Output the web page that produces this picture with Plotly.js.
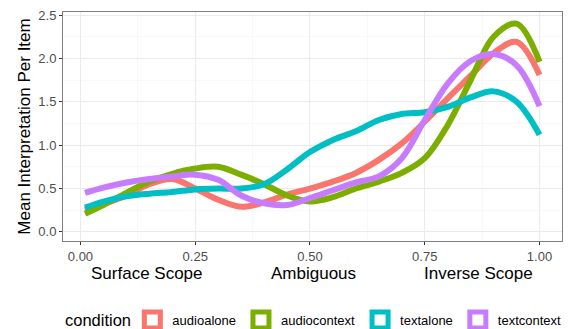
<!DOCTYPE html>
<html><head><meta charset="utf-8">
<script src="https://cdn.plot.ly/plotly-3.0.1.min.js"></script>
<style>html,body{margin:0;padding:0;background:#fff}#chart{width:568px;height:329px}</style>
</head><body><div id="chart"></div>
<script>
var xs = [0.01,0.05,0.1,0.15,0.2,0.25,0.3,0.35,0.4,0.45,0.5,0.55,0.6,0.65,0.7,0.75,0.8,0.85,0.9,0.95,1.0];
var audioalone   = [0.25,0.32,0.42,0.55,0.61,0.50,0.37,0.29,0.34,0.43,0.50,0.58,0.68,0.83,1.02,1.27,1.54,1.80,2.06,2.19,1.81];
var audiocontext = [0.21,0.31,0.45,0.58,0.67,0.73,0.75,0.66,0.55,0.42,0.35,0.40,0.50,0.58,0.68,0.85,1.23,1.75,2.25,2.40,1.96];
var textalone    = [0.28,0.35,0.41,0.44,0.46,0.49,0.50,0.50,0.55,0.72,0.92,1.06,1.16,1.29,1.36,1.38,1.44,1.55,1.62,1.50,1.12];
var textcontext  = [0.45,0.51,0.57,0.61,0.64,0.66,0.60,0.42,0.33,0.31,0.39,0.48,0.57,0.64,0.85,1.29,1.71,1.97,2.05,1.92,1.45];
var conditions = ["audioalone","audiocontext","textalone","textcontext"];
var colors = ["#F8766D","#7CAE00","#00BFC4","#C77CFF"];
var seriesVals = [audioalone, audiocontext, textalone, textcontext];
var xTickVals = [0, 0.25, 0.5, 0.75, 1.0];
var xTickText = ["0.00","0.25","0.50","0.75","1.00"];
var yTickVals = [0, 0.5, 1.0, 1.5, 2.0, 2.5];
var yTickText = ["0.0","0.5","1.0","1.5","2.0","2.5"];
var scopeLabels = ["Surface Scope","Ambiguous","Inverse Scope"];
var scopeX = [0.146, 0.508, 0.867];

var FONT = 'Liberation Sans, Arial, sans-serif';
var traces = [];
for (var i=0;i<4;i++){
  traces.push({x: xs, y: seriesVals[i], type:'scatter', mode:'lines', showlegend:false,
    line:{color:colors[i], width:6, shape:'spline', smoothing:1}, hoverinfo:'skip'});
}
for (var i=0;i<4;i++){
  traces.push({x:[null], y:[null], type:'scatter', mode:'markers', name:conditions[i], showlegend:true,
    marker:{symbol:'square-open', size:16, color:colors[i], line:{width:5, color:colors[i]}}});
}
var annotations = scopeLabels.map(function(t,k){
  return {text:t, x:scopeX[k], xref:'x', y:0, yref:'paper', yanchor:'middle', yshift:-32, xanchor:'center',
    showarrow:false, font:{family:FONT, size:17, color:'#000'}};
});
annotations.push({text:'condition', xref:'paper', yref:'paper', x:0, xshift:0, xanchor:'left', y:0, yshift:-79,
  yanchor:'middle', showarrow:false, font:{family:FONT, size:16.5, color:'#000'}});
var layout = {
  width:568, height:329, paper_bgcolor:'#fff', plot_bgcolor:'#fff',
  margin:{l:63, r:6, t:12, b:88, autoexpand:false},
  font:{family:FONT},
  xaxis:{range:[-0.038,1.049], tickvals:xTickVals, ticktext:xTickText, ticks:'outside', ticklen:3, tickcolor:'#333',
    tickfont:{size:13, color:'#4D4D4D'}, showgrid:true, gridcolor:'#EBEBEB', gridwidth:1,
    minor:{tickvals:[0.125,0.375,0.625,0.875], showgrid:true, gridcolor:'#F4F4F4', gridwidth:0.6},
    showline:true, mirror:true, linecolor:'#7f7f7f', linewidth:1, zeroline:false, automargin:false},
  yaxis:{range:[-0.105,2.535], tickvals:yTickVals, ticktext:yTickText, ticks:'outside', ticklen:3, tickcolor:'#333',
    tickfont:{size:13, color:'#4D4D4D'}, showgrid:true, gridcolor:'#EBEBEB', gridwidth:1,
    minor:{tickvals:[0.25,0.75,1.25,1.75,2.25], showgrid:true, gridcolor:'#F4F4F4', gridwidth:0.6},
    showline:true, mirror:true, linecolor:'#7f7f7f', linewidth:1, zeroline:false, automargin:false,
    title:{text:'Mean Interpretation Per Item', font:{size:17, color:'#000'}, standoff:3}},
  legend:{orientation:'h', xref:'container', yref:'container', x:0.233, xanchor:'left', y:0.027, yanchor:'middle',
    font:{size:13, color:'#000'}, itemwidth:30, tracegroupgap:0},
  annotations: annotations,
  showlegend:true
};
Plotly.newPlot('chart', traces, layout, {staticPlot:true, displayModeBar:false});
</script></body></html>
